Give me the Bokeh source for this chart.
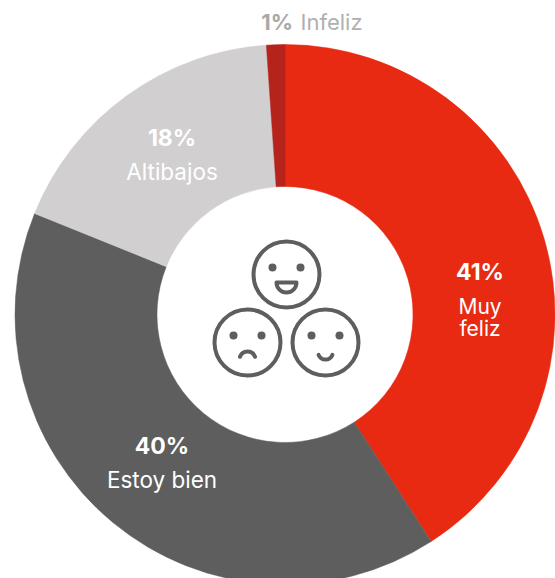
import math
from bokeh.plotting import figure
from bokeh.models import ColumnDataSource, Range1d
from bokeh.core.properties import value
from bokeh.embed import file_html
from bokeh.resources import INLINE

categories = ["Muy feliz", "Estoy bien", "Altibajos", "Infeliz"]
labels = ["41%", "40%", "18%", "1%"]
shares = [40.9, 40.2, 17.8, 1.1]
colors = ["#E82A13", "#5E5E5E", "#D1CFD0", "#B5231A"]

FONT = "Inter"
p = figure(width=555, height=578, output_backend="svg", toolbar_location=None,
           x_range=Range1d(-284.5, 270.5), y_range=Range1d(-264, 314),
           min_border=0, outline_line_color=None, background_fill_color="white",
           border_fill_color="white")
p.axis.visible = False
p.grid.visible = False

total = sum(shares)
cum = [sum(shares[:i]) for i in range(len(shares) + 1)]
start = [math.pi / 2 - 2 * math.pi * c / total for c in cum[:-1]]
end = [math.pi / 2 - 2 * math.pi * c / total for c in cum[1:]]
src = ColumnDataSource(dict(cat=categories, v=shares, start=start, end=end, color=colors))
p.annular_wedge(x=0, y=0, inner_radius=128, outer_radius=270, start_angle="start", end_angle="end",
                direction="clock", fill_color="color", line_color="color", line_width=0.5, source=src)

def label(x, y, t, size, color, bold=False, align="center"):
    p.text([x], [y], text=[t], text_font=value(FONT), text_font_size=f"{size}px", text_color=color,
           text_font_style="bold" if bold else "normal", text_align=align, text_baseline="middle")

W = "#FFFFFF"
label(195, 43, labels[0], 23, W, True)
label(195, 8, "Muy", 21, W)
label(195, -14, "feliz", 21, W)
label(-123, -131, labels[1], 23, W, True)
label(-123, -165, "Estoy bien", 22.5, W)
label(-113, 177, labels[2], 23, W, True)
label(-113, 143, "Altibajos", 22.5, W)
label(8, 293, labels[3], 22, "#A9A9A9", True, "right")
label(15.5, 293, "Infeliz", 22, "#B0B0B0", False, "left")

# icon
G = "#5E5E5E"
faces = [(1.5, 40), (-37.5, -28), (40.5, -28)]
for fx, fy in faces:
    p.circle([fx], [fy], radius=33, fill_color=None, line_color=G, line_width=4)
    p.scatter([fx - 14, fx + 14], [fy + 7, fy + 7], size=8, fill_color=G, line_color=None)
fx, fy = faces[0]
p.wedge([fx], [fy - 8], radius=10, start_angle=math.pi, end_angle=0, direction="anticlock",
        fill_color="white", line_color=G, line_width=4, line_join="round")
fx, fy = faces[1]
p.arc([fx], [fy - 17], radius=8, start_angle=0.35, end_angle=math.pi - 0.35, direction="anticlock",
      line_color=G, line_width=4, line_cap="round")
fx, fy = faces[2]
p.arc([fx], [fy - 9.5], radius=7.5, start_angle=math.pi + 0.4, end_angle=-0.4, direction="anticlock",
      line_color=G, line_width=4, line_cap="round")

open("out.html", "w").write(file_html(p, INLINE))
